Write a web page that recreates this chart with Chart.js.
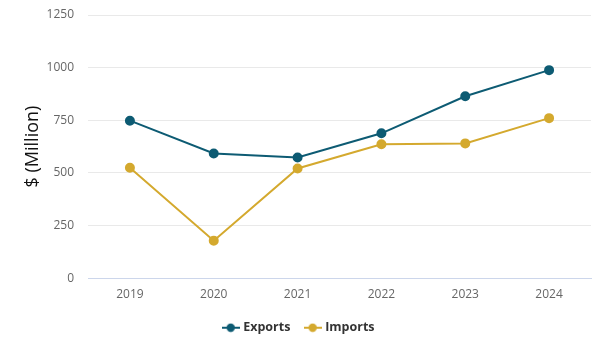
<!DOCTYPE html>
<html lang="en">
<head>
  <meta charset="UTF-8">
  <title>Exports and Imports</title>
  <style>
    body { margin: 0; background: #ffffff; }
    #wrap { width: 605px; height: 353px; }
  </style>
  <script src="https://cdn.jsdelivr.net/npm/chart.js"></script>
</head>
<body>
  <div id="wrap"><canvas id="tradeChart"></canvas></div>
  <script>
    const years = ['2019', '2020', '2021', '2022', '2023', '2024'];
    const exportsValues = [748, 592, 573, 688, 864, 988];
    const importsValues = [524, 178, 521, 636, 640, 760];
    const yTicks = [0, 250, 500, 750, 1000, 1250];

    const exportColor = '#0d5b73';
    const importColor = '#d4a92e';

    // little line+dot icon for the legend
    function legendIcon(color) {
      const c = document.createElement('canvas');
      c.width = 18; c.height = 10;
      const g = c.getContext('2d');
      g.strokeStyle = color;
      g.lineWidth = 2;
      g.beginPath(); g.moveTo(0, 5); g.lineTo(18, 5); g.stroke();
      g.fillStyle = color;
      g.beginPath(); g.arc(9, 5, 4.2, 0, Math.PI * 2); g.fill();
      return c;
    }

    new Chart(document.getElementById('tradeChart'), {
      type: 'line',
      data: {
        labels: years,
        datasets: [
          {
            label: 'Exports',
            data: exportsValues,
            borderColor: exportColor,
            backgroundColor: exportColor,
            borderWidth: 2,
            pointStyle: 'circle',
            pointRadius: 4,
            pointHoverRadius: 5,
            tension: 0
          },
          {
            label: 'Imports',
            data: importsValues,
            borderColor: importColor,
            backgroundColor: importColor,
            borderWidth: 2,
            pointStyle: 'circle',
            pointRadius: 4,
            pointHoverRadius: 5,
            tension: 0
          }
        ]
      },
      options: {
        responsive: true,
        maintainAspectRatio: false,
        animation: false,
        layout: { padding: { top: 0, right: 14, left: 8, bottom: 9 } },
        plugins: {
          legend: {
            position: 'bottom',
            labels: {
              usePointStyle: true,
              padding: 16,
              color: '#333333',
              font: { family: 'Open Sans', size: 12.5, weight: 'bold' },
              generateLabels(chart) {
                return chart.data.datasets.map((ds, i) => ({
                  text: ds.label,
                  pointStyle: legendIcon(ds.borderColor),
                  fillStyle: ds.borderColor,
                  strokeStyle: ds.borderColor,
                  lineWidth: 0,
                  fontColor: '#333333',
                  datasetIndex: i,
                  hidden: false
                }));
              }
            }
          },
          tooltip: { enabled: false }
        },
        scales: {
          x: {
            offset: true,
            afterFit(axis) { axis.height += 3; },
            grid: { display: false },
            border: { color: '#ccd6eb', width: 1 },
            ticks: { color: '#666666', padding: 1, font: { family: 'Open Sans', size: 12 } }
          },
          y: {
            min: 0,
            max: 1250,
            afterBuildTicks(axis) { axis.ticks = yTicks.map(v => ({ value: v })); },
            afterFit(axis) { axis.width = 80; axis.paddingTop = 15; },
            grid: { color: '#e9e9e9', lineWidth: 1, drawTicks: false },
            border: { display: false },
            ticks: {
              color: '#666666',
              padding: 14,
              font: { family: 'Open Sans', size: 12 },
              callback: v => String(v)
            },
            title: {
              display: true,
              text: '$ (Million)',
              color: '#111111',
              padding: { top: 14, bottom: 3 },
              font: { family: 'Open Sans', size: 18 }
            }
          }
        }
      }
    });
  </script>
</body>
</html>
